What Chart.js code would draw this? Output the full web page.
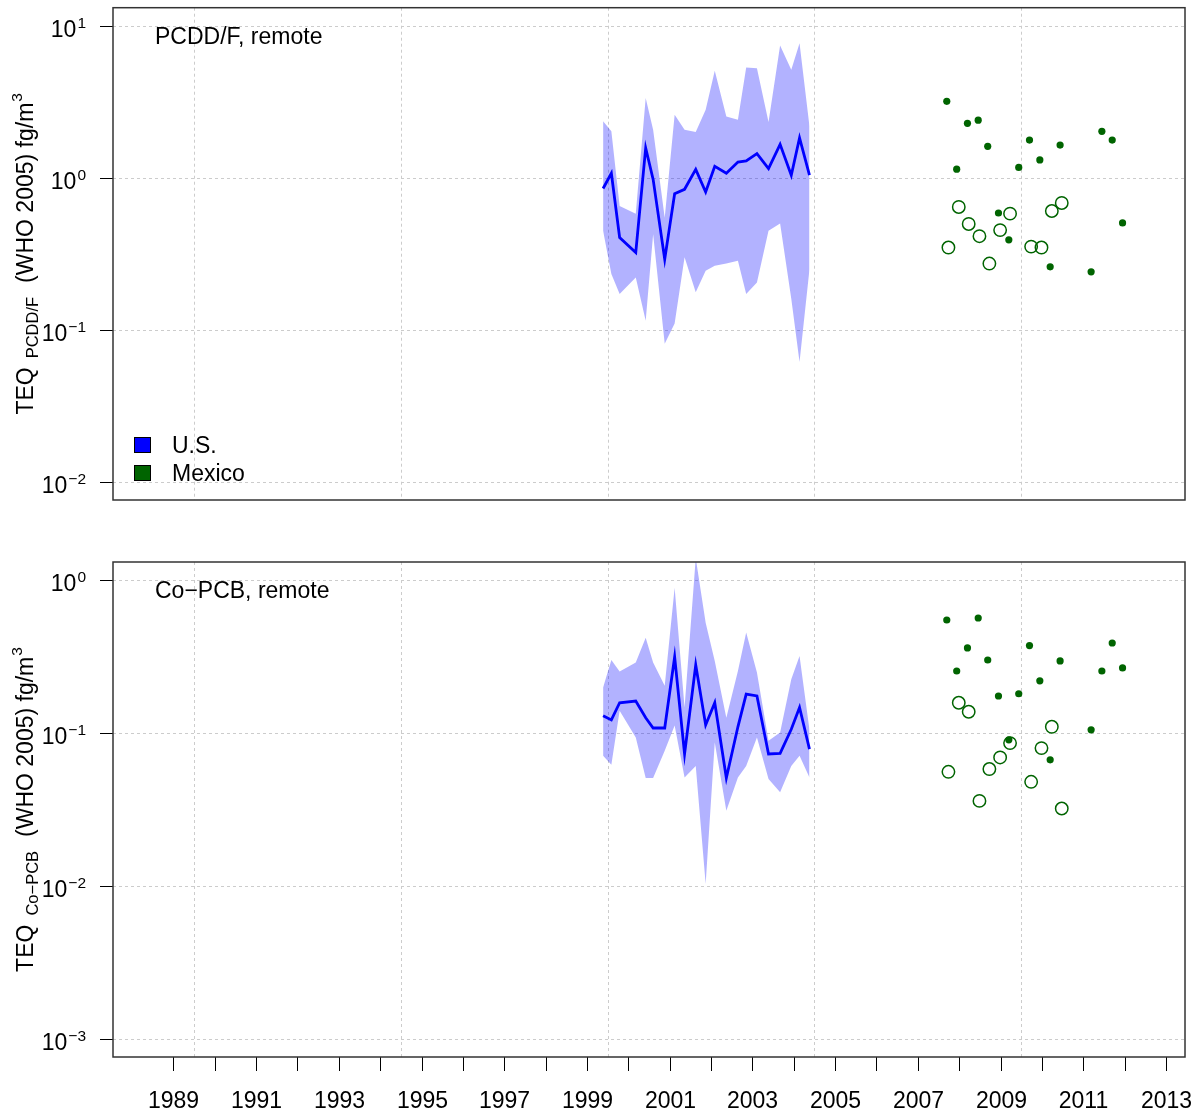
<!DOCTYPE html>
<html>
<head>
<meta charset="utf-8">
<script src="https://cdn.jsdelivr.net/npm/chart.js@4/dist/chart.umd.min.js"></script>
<style>
  body { margin: 0; background: #fff; }
  canvas { position: absolute; left: 0; }
  #chartTop { top: 0; }
  #chartBot { top: 530px; }
</style>
</head>
<body>
<canvas id="chartTop" width="1198" height="530"></canvas>
<canvas id="chartBot" width="1198" height="583"></canvas>
<script>
// U.S. sampling times (decimal year) and median / range of TEQ
var usYears = [1999.39, 1999.59, 1999.79, 2000.18, 2000.42, 2000.60, 2000.88, 2001.12, 2001.36, 2001.63, 2001.87,
               2002.09, 2002.37, 2002.65, 2002.85, 2003.11, 2003.39, 2003.67, 2003.94, 2004.14, 2004.38];
var pcddMed = [0.85, 1.07, 0.405, 0.323, 1.57, 0.976, 0.292, 0.786, 0.84, 1.135, 0.806, 1.19, 1.07, 1.27, 1.29, 1.44, 1.15, 1.66, 1.04, 1.83, 1.04];
var pcddHi  = [2.35, 2.02, 0.653, 0.581, 3.34, 2.07, 0.547, 2.60, 2.07, 2.0, 2.8, 5.05, 2.53, 2.41, 5.3, 5.25, 2.33, 7.4, 5.13, 7.66, 2.18];
var pcddLo  = [0.448, 0.233, 0.172, 0.221, 0.115, 0.426, 0.081, 0.11, 0.3, 0.177, 0.245, 0.264, 0.273, 0.285, 0.172, 0.205, 0.448, 0.5, 0.16, 0.0615, 0.25];
var pcbMed = [0.130, 0.122, 0.158, 0.162, 0.126, 0.108, 0.108, 0.315, 0.073, 0.279, 0.113, 0.158, 0.0508, 0.11, 0.18, 0.175, 0.073, 0.0736, 0.106, 0.147, 0.0786];
var pcbHi  = [0.199, 0.301, 0.253, 0.29, 0.421, 0.29, 0.204, 0.895, 0.147, 1.4, 0.528, 0.297, 0.126, 0.255, 0.455, 0.249, 0.089, 0.101, 0.225, 0.32, 0.105];
var pcbLo  = [0.071, 0.062, 0.14, 0.0936, 0.0508, 0.0508, 0.0766, 0.112, 0.0513, 0.061, 0.0103, 0.0868, 0.031, 0.0513, 0.061, 0.0936, 0.05, 0.041, 0.061, 0.071, 0.0513];

// Mexico, filled points
var mxYears = [2007.70, 2007.94, 2008.20, 2008.46, 2008.69, 2008.95, 2009.20, 2009.44, 2009.70, 2009.95, 2010.20, 2010.44, 2011.19, 2011.45, 2011.70, 2011.95];
var mxPcdd  = [3.18, 1.14, 2.28, 2.39, 1.61, 0.587, 0.391, 1.17, 1.77, 1.31, 0.260, 1.64, 0.241, 2.02, 1.77, 0.505];
var mxPcb   = [0.55, 0.255, 0.361, 0.567, 0.301, 0.175, 0.0904, 0.181, 0.374, 0.22, 0.0669, 0.297, 0.105, 0.255, 0.389, 0.267];
// Mexico, open circles
var mxYearsO = [2007.74, 2007.99, 2008.23, 2008.49, 2008.73, 2008.99, 2009.23, 2009.74, 2009.99, 2010.24, 2010.48];
var mxPcddO  = [0.348, 0.643, 0.497, 0.413, 0.273, 0.453, 0.581, 0.353, 0.348, 0.605, 0.683];
var mxPcbO   = [0.0558, 0.158, 0.138, 0.036, 0.0582, 0.0693, 0.086, 0.048, 0.0798, 0.110, 0.0321];

var yearTicks = [1989, 1990, 1991, 1992, 1993, 1994, 1995, 1996, 1997, 1998, 1999, 2000, 2001,
                 2002, 2003, 2004, 2005, 2006, 2007, 2008, 2009, 2010, 2011, 2012, 2013];
var vGrid = [1989.5, 1994.5, 1999.5, 2004.5, 2009.5];
var topTicks = [10, 1, 0.1, 0.01];
var topExps = ['1', '0', '\u22121', '\u22122'];
var botTicks = [1, 0.1, 0.01, 0.001];
var botExps = ['0', '\u22121', '\u22122', '\u22123'];

var FONT = '"Liberation Sans", Arial, Helvetica, sans-serif';
var FS = 23;

function pts(xs, ys) {
  return xs.map(function (x, i) { return { x: x, y: ys[i] }; });
}

function powLabel(ctx, exp, xr, yc) {
  ctx.font = FS + 'px ' + FONT;
  var wb = ctx.measureText('10').width;
  ctx.font = '15.5px ' + FONT;
  var we = ctx.measureText(exp).width;
  var x0 = xr - wb - we - 1;
  ctx.textAlign = 'left';
  ctx.textBaseline = 'alphabetic';
  ctx.font = FS + 'px ' + FONT;
  ctx.fillText('10', x0, yc + 10);
  ctx.font = '15.5px ' + FONT;
  ctx.fillText(exp, x0 + wb + 1, yc + 1);
}

function yLabel(ctx, cy, sub) {
  var parts = [
    { t: 'TEQ', f: FS, dy: 0, gap: 9 },
    { t: sub, f: 16.5, dy: 5, gap: 14 },
    { t: '(WHO 2005) fg/m', f: FS, dy: 0, gap: 1 },
    { t: '3', f: 15.5, dy: -11, gap: 0 }
  ];
  var total = 0;
  parts.forEach(function (p) {
    ctx.font = p.f + 'px ' + FONT;
    p.w = ctx.measureText(p.t).width;
    total += p.w + p.gap;
  });
  ctx.save();
  ctx.translate(33, cy);
  ctx.rotate(-Math.PI / 2);
  ctx.textAlign = 'left';
  ctx.textBaseline = 'alphabetic';
  var x = -total / 2;
  parts.forEach(function (p) {
    ctx.font = p.f + 'px ' + FONT;
    ctx.fillText(p.t, x, p.dy);
    x += p.w + p.gap;
  });
  ctx.restore();
}

var gridPlugin = {
  id: 'rgrid',
  beforeDatasetsDraw: function (chart) {
    var ctx = chart.ctx, a = chart.chartArea;
    var xs = chart.scales.x, ys = chart.scales.y;
    var cfg = chart.options.plugins.panel;
    ctx.save();
    ctx.strokeStyle = '#cccccc';
    ctx.lineWidth = 1;
    ctx.setLineDash([3, 3]);
    vGrid.forEach(function (v) {
      var px = Math.round(xs.getPixelForValue(v)) + 0.5;
      ctx.beginPath(); ctx.moveTo(px, a.top); ctx.lineTo(px, a.bottom); ctx.stroke();
    });
    cfg.ticks.forEach(function (v) {
      var py = Math.round(ys.getPixelForValue(v)) + 0.5;
      ctx.beginPath(); ctx.moveTo(a.left, py); ctx.lineTo(a.right, py); ctx.stroke();
    });
    ctx.restore();
  },
  afterDraw: function (chart) {
    var ctx = chart.ctx, a = chart.chartArea;
    var xs = chart.scales.x, ys = chart.scales.y;
    var cfg = chart.options.plugins.panel;
    ctx.save();
    ctx.fillStyle = '#000';
    ctx.strokeStyle = '#000';
    ctx.lineWidth = 1;
    // y ticks and labels
    cfg.ticks.forEach(function (v, i) {
      var py = Math.round(ys.getPixelForValue(v)) + 0.5;
      ctx.beginPath(); ctx.moveTo(a.left - 13, py); ctx.lineTo(a.left, py); ctx.stroke();
      powLabel(ctx, cfg.exps[i], 86, py);
    });
    // x axis
    if (cfg.xaxis) {
      ctx.textAlign = 'center';
      ctx.textBaseline = 'alphabetic';
      ctx.font = FS + 'px ' + FONT;
      yearTicks.forEach(function (yr) {
        var px = Math.round(xs.getPixelForValue(yr)) + 0.5;
        ctx.beginPath(); ctx.moveTo(px, a.bottom); ctx.lineTo(px, a.bottom + 14); ctx.stroke();
        if (yr % 2 === 1) ctx.fillText(String(yr), px, a.bottom + 51);
      });
    }
    // box
    ctx.strokeStyle = '#333';
    ctx.lineWidth = 1.5;
    ctx.strokeRect(a.left, a.top, a.right - a.left, a.bottom - a.top);
    // panel title
    ctx.fillStyle = '#000';
    ctx.textAlign = 'left';
    ctx.font = FS + 'px ' + FONT;
    ctx.fillText(cfg.title, 155, a.top + 36);
    // legend
    if (cfg.legend) {
      var items = [['U.S.', '#0000ff'], ['Mexico', '#006400']];
      items.forEach(function (it, i) {
        var yb = 453 + i * 28;
        ctx.fillStyle = it[1];
        ctx.fillRect(134.5, yb - 15.5, 16, 15);
        ctx.strokeStyle = '#000';
        ctx.lineWidth = 1;
        ctx.strokeRect(134.5, yb - 15.5, 16, 15);
        ctx.fillStyle = '#000';
        ctx.fillText(it[0], 172, yb);
      });
    }
    yLabel(ctx, (a.top + a.bottom) / 2, cfg.sub);
    ctx.restore();
  }
};

function makePanel(id, med, lo, hi, mxA, mxB, yMin, yMax, panel, pad) {
  var ctx = document.getElementById(id).getContext('2d');
  return new Chart(ctx, {
    type: 'line',
    data: {
      datasets: [
        { data: pts(usYears, lo), borderWidth: 0, pointRadius: 0, fill: false, borderColor: 'rgba(0,0,0,0)' },
        { data: pts(usYears, hi), borderWidth: 0, pointRadius: 0, fill: '-1', borderColor: 'rgba(0,0,0,0)',
          backgroundColor: 'rgba(0,0,255,0.3)' },
        { data: pts(usYears, med), borderColor: '#0000ff', borderWidth: 2.8, pointRadius: 0, fill: false },
        { type: 'scatter', data: pts(mxYears, mxA), pointRadius: 3.6, backgroundColor: '#006400', borderWidth: 0 },
        { type: 'scatter', data: pts(mxYearsO, mxB), pointRadius: 6.2, backgroundColor: 'rgba(0,0,0,0)',
          borderColor: '#006400', borderWidth: 1.5 }
      ]
    },
    options: {
      responsive: false,
      animation: false,
      devicePixelRatio: 1,
      layout: { padding: pad },
      scales: {
        x: { type: 'linear', min: 1987.54, max: 2013.46, bounds: 'data', display: false },
        y: { type: 'logarithmic', min: yMin, max: yMax, bounds: 'data', display: false }
      },
      plugins: {
        legend: { display: false },
        tooltip: { enabled: false },
        panel: panel
      }
    },
    plugins: [gridPlugin]
  });
}

makePanel('chartTop', pcddMed, pcddLo, pcddHi, mxPcdd, mxPcddO, Math.pow(10, -2.118), Math.pow(10, 1.118),
  { title: 'PCDD/F, remote', sub: 'PCDD/F', ticks: topTicks, exps: topExps, legend: true, xaxis: false },
  { left: 113, top: 6, right: 13, bottom: 30 });

makePanel('chartBot', pcbMed, pcbLo, pcbHi, mxPcb, mxPcbO, Math.pow(10, -3.12), Math.pow(10, 0.12),
  { title: 'Co\u2212PCB, remote', sub: 'Co\u2212PCB', ticks: botTicks, exps: botExps, legend: false, xaxis: true },
  { left: 113, top: 32, right: 13, bottom: 56 });
</script>
</body>
</html>
